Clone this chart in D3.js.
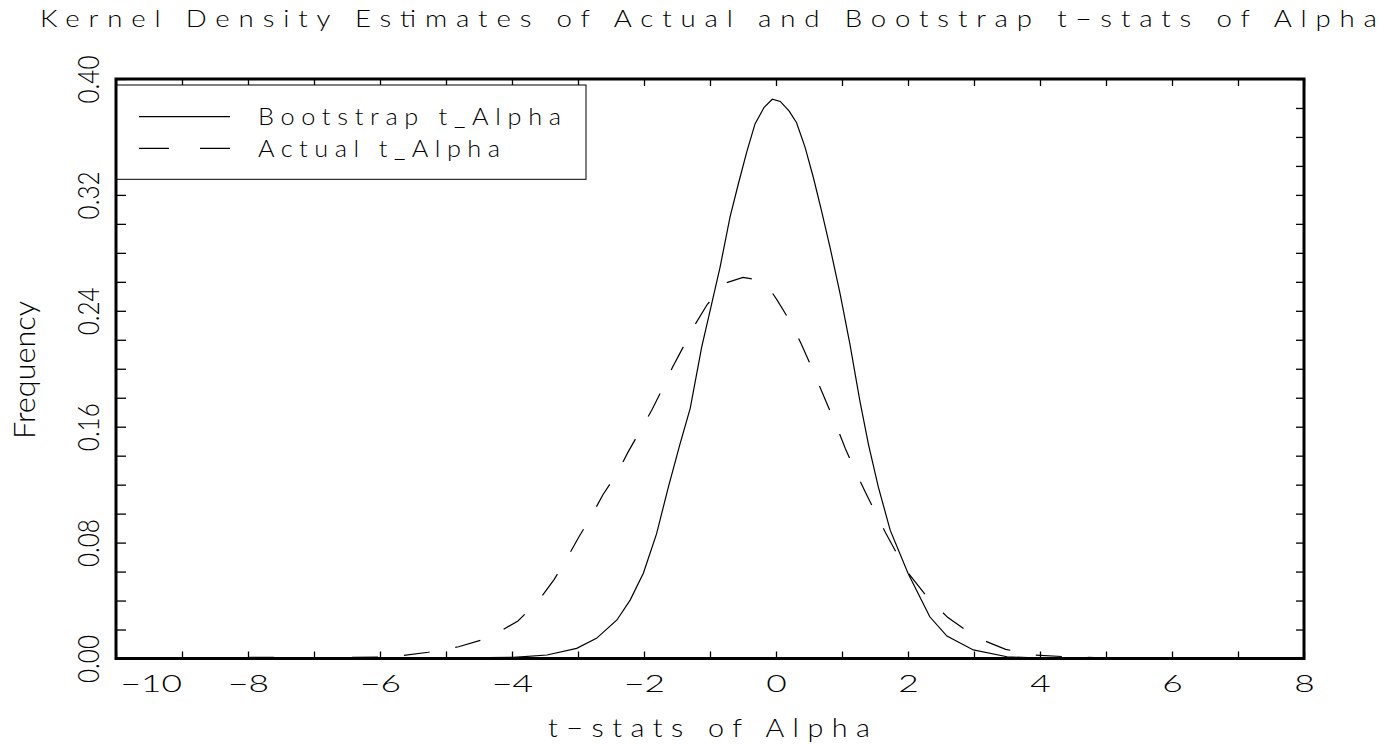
<!DOCTYPE html>
<meta charset="utf-8">
<style>
body { margin: 0; background: #fff; }
svg text { font-family: "Lato", "DejaVu Sans", sans-serif; font-weight: 300; fill: #000; }
.axis path.domain { display: none; }
.axis line { stroke: #000; stroke-width: 1.3; }
</style>
<svg id="chart" width="1386" height="745"></svg>
<script src="https://d3js.org/d3.v7.min.js"></script>
<script>

// values
var bootT = [-8, -5, -3.98, -3.47, -3.02, -2.72, -2.41, -2.21, -2.01, -1.81, -1.63, -1.455, -1.30, -1.126, -0.974, -0.848, -0.697, -0.57, -0.444, -0.318, -0.18, -0.056, 0.065, 0.197, 0.31, 0.44, 0.566, 0.69, 0.818, 0.97, 1.12, 1.27, 1.40, 1.55, 1.73, 2.0, 2.33, 2.59, 2.99, 3.5, 4.0, 5, 8];
var bootD = [0, 0.0002, 0.0008, 0.0024, 0.0070, 0.0139, 0.0266, 0.0403, 0.0588, 0.086, 0.1185, 0.148, 0.1726, 0.215, 0.245, 0.270, 0.3047, 0.3277, 0.3495, 0.369, 0.3805, 0.386, 0.3845, 0.378, 0.370, 0.353, 0.332, 0.309, 0.284, 0.252, 0.217, 0.178, 0.148, 0.1185, 0.0886, 0.0588, 0.0288, 0.0155, 0.0059, 0.0012, 0.0002, 0, 0];

var actT = [-8, -7.5, -7, -6.5, -6, -5.72, -5.27, -4.81, -4.36, -3.91, -3.59, -3.36, -3.16, -2.985, -2.79, -2.62, -2.41, -2.24, -2.06, -1.883, -1.72, -1.57, -1.40, -1.24, -1.04, -0.747, -0.5, -0.303, -0.065, 0.02, 0.21, 0.374, 0.515, 0.65, 0.79, 0.92, 1.05, 1.19, 1.34, 1.50, 1.66, 1.83, 2.02, 2.28, 2.60, 3.03, 3.48, 3.93, 4.40, 4.83];
var actD = [0.0008, 0.0008, 0.0006, 0.0008, 0.0010, 0.0017, 0.0043, 0.0081, 0.0141, 0.0259, 0.0403, 0.0546, 0.0698, 0.084, 0.099, 0.1132, 0.1277, 0.1426, 0.157, 0.1714, 0.1863, 0.2008, 0.2155, 0.2295, 0.2445, 0.2594, 0.263, 0.2615, 0.253, 0.2472, 0.233, 0.218, 0.2036, 0.189, 0.174, 0.160, 0.145, 0.1305, 0.1162, 0.1012, 0.0868, 0.0725, 0.058, 0.0431, 0.0284, 0.0146, 0.0063, 0.0024, 0.0012, 0.0006];

var xTicks = d3.range(-10, 9, 1);
var xLabels = [-10, -8, -6, -4, -2, 0, 2, 4, 6, 8];
var yTicks = d3.range(0, 0.4001, 0.02);
var yLabels = [0, 0.08, 0.16, 0.24, 0.32, 0.40];

var titleText = "Kernel Density Estimates of Actual and Bootstrap t\u2212stats of Alpha";
var xTitle = "t\u2212stats of Alpha";
var yTitle = "Frequency";
var seriesNames = ["Bootstrap t_Alpha", "Actual t_Alpha"];

var plotL = 116, plotR = 1304, plotT = 79, plotB = 658.5;

var x = d3.scaleLinear().domain([-10, 8]).range([plotL, plotR]);
var y = d3.scaleLinear().domain([0, 0.4]).range([plotB, plotT]);

var svg = d3.select("#chart");

function isLabel(list, v) {
  return list.some(function (l) { return Math.abs(l - v) < 1e-6; });
}

// wide, spaced-out text: glyphs stretched by sx, then spread to a total width
function wideText(parent, str, x0, y0, size, width, sx) {
  return parent.append("text")
      .attr("transform", "translate(" + x0 + "," + y0 + ") scale(" + sx + ",1)")
      .attr("font-size", size)
      .attr("textLength", width / sx)
      .attr("lengthAdjust", "spacing")
      .text(str);
}

// title
wideText(svg, titleText, 40, 27, 24, 1337, 1.15);

// curves
var line = d3.line()
    .x(function (d) { return x(d[0]); })
    .y(function (d) { return y(d[1]); });

svg.append("path")
    .datum(d3.zip(bootT, bootD))
    .attr("d", line)
    .attr("fill", "none")
    .attr("stroke", "#000")
    .attr("stroke-width", 1.2);

svg.append("path")
    .datum(d3.zip(actT, actD))
    .attr("d", line)
    .attr("fill", "none")
    .attr("stroke", "#000")
    .attr("stroke-width", 1.2)
    .attr("stroke-dasharray", "26,26");

// axes
var fmtX = d3.format("d");
var gx = svg.append("g")
    .attr("class", "axis")
    .attr("transform", "translate(0," + plotB + ")")
    .call(d3.axisBottom(x).tickValues(xTicks).tickSizeInner(-7).tickSizeOuter(0)
      .tickFormat(function (d) { return isLabel(xLabels, d) ? fmtX(d) : ""; }));
gx.attr("font-family", null).attr("font-size", null);
gx.selectAll("text")
    .attr("y", 33)
    .attr("dy", null)
    .attr("font-size", 23)
    .each(function (d) {
      var t = d3.select(this), n = t.text().length;
      if (n) t.attr("textLength", 20.5 * n).attr("lengthAdjust", "spacingAndGlyphs");
      // the first label is pushed clear of the y axis
      if (d === xLabels[0]) t.attr("text-anchor", "start").attr("x", 120 - x(d));
    });

svg.append("g")
    .attr("class", "axis")
    .attr("transform", "translate(0," + plotT + ")")
    .call(d3.axisTop(x).tickValues(xTicks).tickSizeInner(-7).tickSizeOuter(0).tickFormat(""));

var gy = svg.append("g")
    .attr("class", "axis")
    .attr("transform", "translate(" + plotL + ",0)")
    .call(d3.axisLeft(y).tickValues(yTicks).tickSizeInner(-10).tickSizeOuter(0).tickFormat(""));
gy.attr("font-family", null).attr("font-size", null);
gy.selectAll(".tick")
    .filter(function (d) { return isLabel(yLabels, d); })
    .append("text")
    .attr("transform", "translate(-17.5,0) rotate(-90)")
    .attr("text-anchor", "middle")
    .attr("font-size", 30)
    .attr("textLength", 48)
    .attr("lengthAdjust", "spacingAndGlyphs")
    .text(function (d) { return d3.format(".2f")(d); });

svg.append("g")
    .attr("class", "axis")
    .attr("transform", "translate(" + plotR + ",0)")
    .call(d3.axisRight(y).tickValues(yTicks).tickSizeInner(-8).tickSizeOuter(0).tickFormat(""));

// axis titles
wideText(svg, xTitle, 548, 737, 25, 322, 1.15);

svg.append("text")
    .attr("transform", "translate(35,370) rotate(-90)")
    .attr("text-anchor", "middle")
    .attr("font-size", 30)
    .attr("textLength", 138)
    .attr("lengthAdjust", "spacingAndGlyphs")
    .text(yTitle);

// legend
var legend = svg.append("g");
legend.append("rect")
    .attr("x", plotL)
    .attr("y", 85)
    .attr("width", 470)
    .attr("height", 94.3)
    .attr("fill", "#fff")
    .attr("stroke", "#000")
    .attr("stroke-width", 1);

var legendRows = [
  { name: seriesNames[0], ly: 116.7, dash: null, len: 303 },
  { name: seriesNames[1], ly: 148.3, dash: "30,31", len: 242 }
];
legendRows.forEach(function (r) {
  legend.append("line")
      .attr("x1", 139).attr("x2", 230)
      .attr("y1", r.ly).attr("y2", r.ly)
      .attr("stroke", "#000")
      .attr("stroke-width", 1.2)
      .attr("stroke-dasharray", r.dash);
  wideText(legend, r.name, 258, r.ly + 8.5, 23, r.len, 1.1);
});

// frame
svg.append("rect")
    .attr("x", plotL)
    .attr("y", plotT)
    .attr("width", plotR - plotL)
    .attr("height", plotB - plotT)
    .attr("fill", "none")
    .attr("stroke", "#000")
    .attr("stroke-width", 3);

</script>
